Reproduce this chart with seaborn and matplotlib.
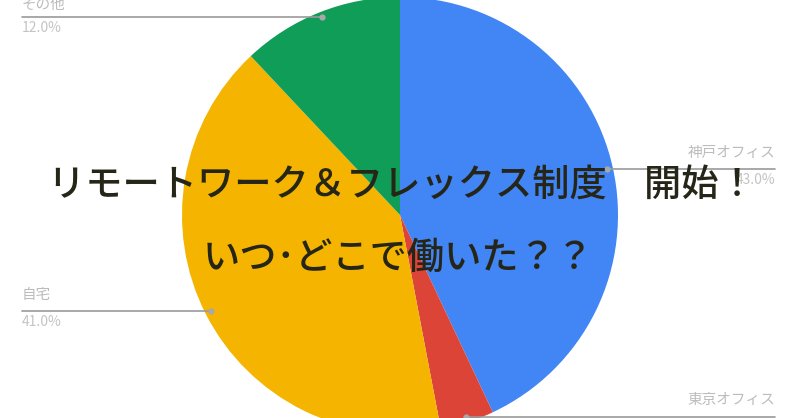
import numpy as np
import matplotlib
matplotlib.use("Agg")
import matplotlib.pyplot as plt
import seaborn as sns

# slice data (Google-chart style pie, clockwise from 12 o'clock)
places = ['神戸オフィス', '東京オフィス', '自宅', 'その他']
shares = [43.0, 4.0, 41.0, 12.0]
slice_colors = ['#4285F4', '#DB4437', '#F4B400', '#0F9D58']

title_lines = ['リモートワーク＆フレックス制度　開始！', 'いつ･どこで働いた？？']

sns.set_theme(style='white')
plt.rcParams['font.family'] = ['Noto Sans CJK JP', 'DejaVu Sans']

W, H = 800, 418
fig = plt.figure(figsize=(W / 100, H / 100), dpi=100)
ax = fig.add_axes([0, 0, 1, 1])

cx, cy, R = 400, H - 215, 218
wedges, _ = ax.pie(shares, colors=slice_colors, startangle=90, counterclock=False,
                   center=(cx, cy), radius=R,
                   wedgeprops=dict(linewidth=0))

ax.set_xlim(0, W)
ax.set_ylim(0, H)
ax.set_aspect('auto')
ax.axis('off')

# label anchors: (side, text y in image px)
label_pos = {'神戸オフィス': ('right', 153), '東京オフィス': ('right', 400),
             '自宅': ('left', 295), 'その他': ('left', 5)}

for w, name, pct in zip(wedges, places, shares):
    mid = np.deg2rad((w.theta1 + w.theta2) / 2)
    dx = cx + 0.975 * R * np.cos(mid)
    dy = cy + 0.975 * R * np.sin(mid)
    side, ty = label_pos[name]
    if side == 'left':
        x0, x1, tx, ha = 22, dx, 22, 'left'
    else:
        x0, x1, tx, ha = dx, 775, 775, 'right'
    ax.plot([x0, x1], [dy, dy], color='#9a9a9a', lw=1.2, zorder=3)
    ax.plot(dx, dy, 'o', ms=3.5, color='#a8a8a8', zorder=4)
    ax.text(tx, H - ty, name, ha=ha, va='center', fontsize=10.5,
            color='#bcbcbc', zorder=4)
    ax.text(tx, dy - 11, f'{pct:.1f}%', ha=ha, va='center', fontsize=10,
            color='#c4c4c4', zorder=4)

ax.text(402, H - 185, title_lines[0], ha='center', va='center', fontsize=26.8,
        color='#262618', fontweight='medium', zorder=5)
ax.text(398, H - 258, title_lines[1], ha='center', va='center', fontsize=26.8,
        color='#262618', fontweight='medium', zorder=5)

fig.savefig('out.png', dpi=100)
